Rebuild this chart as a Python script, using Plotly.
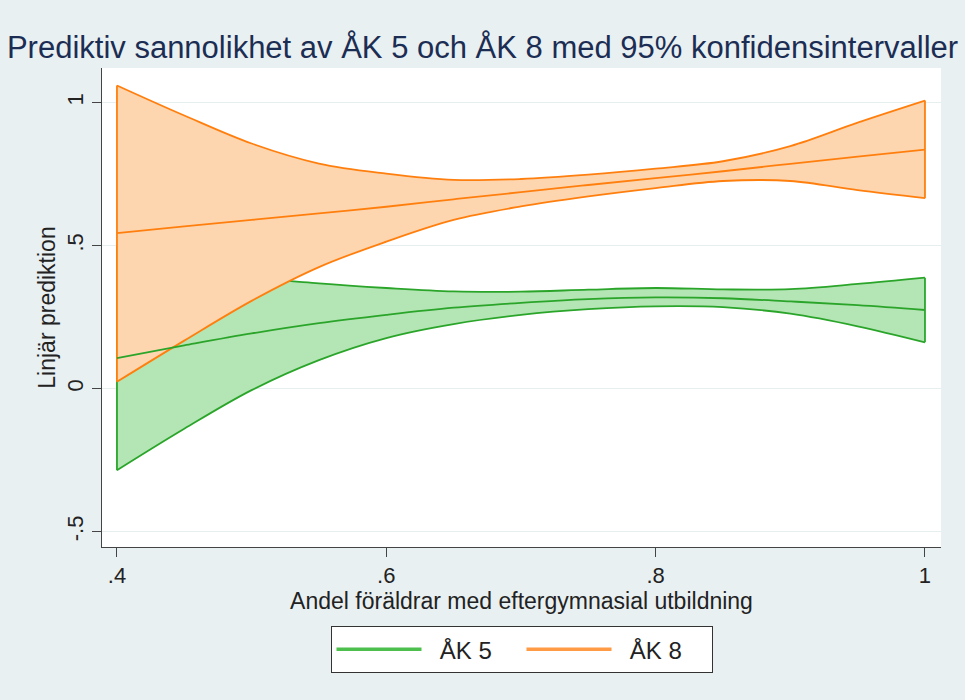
import plotly.graph_objects as go

# andel föräldrar med eftergymnasial utbildning
x_vals = [0.40, 0.45, 0.50, 0.55, 0.60, 0.65, 0.70, 0.75, 0.80, 0.85, 0.90, 0.95, 1.00]

# ÅK 5 - linjär prediktion med 95% KI
ak5_fit = [0.107, 0.151, 0.193, 0.229, 0.258, 0.283, 0.300, 0.313, 0.319, 0.316, 0.305, 0.292, 0.275]
ak5_lo = [-0.285, -0.140, -0.005, 0.100, 0.177, 0.226, 0.258, 0.278, 0.288, 0.285, 0.262, 0.218, 0.162]
ak5_hi = [0.499, 0.440, 0.390, 0.368, 0.352, 0.340, 0.339, 0.346, 0.352, 0.347, 0.348, 0.366, 0.388]

# ÅK 8
ak8_fit = [0.544, 0.567, 0.590, 0.613, 0.636, 0.662, 0.687, 0.712, 0.736, 0.760, 0.786, 0.811, 0.836]
ak8_lo = [0.024, 0.168, 0.307, 0.425, 0.514, 0.590, 0.637, 0.672, 0.701, 0.726, 0.726, 0.694, 0.666]
ak8_hi = [1.060, 0.955, 0.857, 0.787, 0.752, 0.730, 0.733, 0.748, 0.769, 0.795, 0.848, 0.930, 1.007]

series_names = ["ÅK 5", "ÅK 8"]
x_ticks = [0.4, 0.6, 0.8, 1.0]
x_ticklabels = [".4", ".6", ".8", "1"]
y_ticks = [-0.5, 0, 0.5, 1]
y_ticklabels = ["-.5", "0", ".5", "1"]

GREEN = "#2aa52a"
GREEN_FILL = "#b4e5b4"
ORANGE = "#ff7f0e"
ORANGE_FILL = "#fdd6b0"
BG = "#e9f0f2"
FONT = "Liberation Sans, Arial, sans-serif"
GAP = "\u00a0\u00a0"  # a little room between legend key and label


def add_band(fig, lo, hi, color, fill):
    # lower bound, then upper bound filled down to it
    fig.add_trace(go.Scatter(x=x_vals, y=lo, mode="lines", line=dict(color=color, width=1.8, shape="spline"),
                             showlegend=False, hoverinfo="skip"))
    fig.add_trace(go.Scatter(x=x_vals, y=hi, mode="lines", fill="tonexty", fillcolor=fill,
                             line=dict(color=color, width=1.8, shape="spline"),
                             showlegend=False, hoverinfo="skip"))
    # vertical end edges of the area
    fig.add_trace(go.Scatter(x=[x_vals[0], x_vals[0], None, x_vals[-1], x_vals[-1]],
                             y=[lo[0], hi[0], None, lo[-1], hi[-1]], mode="lines",
                             line=dict(color=color, width=1.8), showlegend=False, hoverinfo="skip"))


fig = go.Figure()
add_band(fig, ak5_lo, ak5_hi, GREEN, GREEN_FILL)
add_band(fig, ak8_lo, ak8_hi, ORANGE, ORANGE_FILL)
fig.add_trace(go.Scatter(x=x_vals, y=ak5_fit, mode="lines", name=series_names[0], legendgroup="ak5",
                         showlegend=False, line=dict(color=GREEN, width=1.8, shape="spline")))
fig.add_trace(go.Scatter(x=x_vals, y=ak8_fit, mode="lines", name=series_names[1], legendgroup="ak8",
                         showlegend=False, line=dict(color=ORANGE, width=1.8, shape="spline")))
# legend keys drawn a bit thicker, like the original
fig.add_trace(go.Scatter(x=[None], y=[None], mode="lines", name=GAP + series_names[0], legendgroup="ak5",
                         line=dict(color="#4cbf4c", width=3.5)))
fig.add_trace(go.Scatter(x=[None], y=[None], mode="lines", name=GAP + series_names[1], legendgroup="ak8",
                         line=dict(color="#ff9a45", width=3.5)))

fig.update_layout(
    width=965, height=700,
    paper_bgcolor=BG, plot_bgcolor="white",
    margin=dict(l=102, r=24, t=68, b=153),
    font=dict(family=FONT, size=22, color="#222222"),
    title=dict(text="Prediktiv sannolikhet av ÅK 5 och ÅK 8 med 95% konfidensintervaller",
               x=0.5, xref="container", xanchor="center",
               y=1 - 47 / 700, yref="container", yanchor="middle",
               font=dict(family=FONT, size=31, color="#1c2d54")),
    legend=dict(orientation="h", x=0.5, xanchor="center", y=-0.165, yanchor="top",
                traceorder="normal", itemwidth=85,
                bgcolor="white", bordercolor="#333333", borderwidth=1,
                font=dict(size=24), entrywidth=90, entrywidthmode="pixels"),
)
fig.update_xaxes(range=[0.3889, 1.0119], tickvals=x_ticks, ticktext=x_ticklabels,
                 showgrid=False, zeroline=False, showline=True, linecolor="#444444", linewidth=1,
                 ticks="outside", ticklen=9, tickcolor="#444444", tickfont=dict(size=22),
                 title=dict(text="Andel föräldrar med eftergymnasial utbildning", font=dict(size=23), standoff=4))
fig.update_yaxes(range=[-0.5535, 1.121], tickvals=y_ticks, ticktext=y_ticklabels, tickangle=-90,
                 showgrid=True, gridcolor="#e6eef0", gridwidth=1, zeroline=False,
                 showline=True, linecolor="#444444", linewidth=1,
                 ticks="outside", ticklen=9, tickcolor="#444444", tickfont=dict(size=22),
                 title=dict(text="Linjär prediktion", font=dict(size=23), standoff=1))

# drop the default page margin so the figure fills the window
fig.write_html("out.html", config={"displayModeBar": False},
               post_script="document.body.style.margin='0px';document.body.style.background='%s';" % BG)
